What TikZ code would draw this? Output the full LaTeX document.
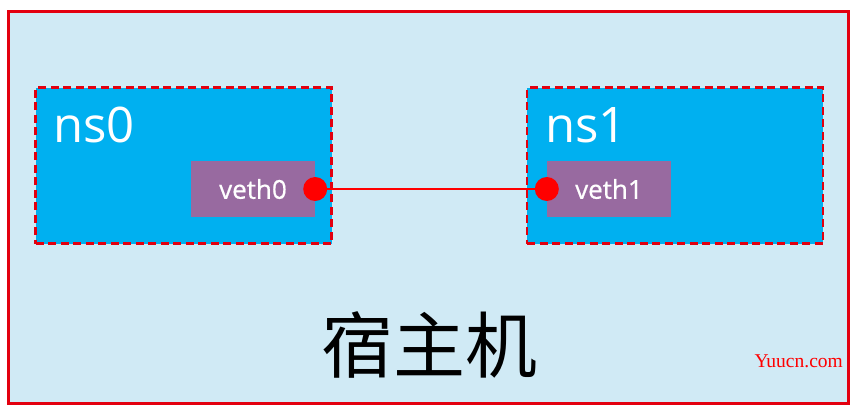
\documentclass[tikz,border=0pt]{standalone}
\usepackage{fontspec}
\setmainfont{Open Sans}
\newfontfamily\vethfont{Open Sans}[FakeBold=0.6]
\newfontfamily\cjk{Noto Sans CJK SC}
\newfontfamily\wmfont{Liberation Serif}
\usetikzlibrary{positioning}
\definecolor{hostbg}{HTML}{D0EAF5}
\definecolor{hostline}{HTML}{E3000F}
\definecolor{nsfill}{HTML}{00B0F0}
\definecolor{vethfill}{HTML}{986AA0}
\definecolor{linkred}{HTML}{FF0000}
\tikzset{
  host/.style={draw=hostline,fill=hostbg,line width=2.8pt,inner sep=0pt,
    minimum width=840pt,minimum height=392pt},
  nsbox/.style={draw=hostline,fill=nsfill,line width=2.8pt,
    dash pattern=on 8pt off 4.5pt,inner sep=0pt,
    minimum width=296pt,minimum height=156pt},
  nslabel/.style={anchor=base west,inner sep=0pt,text=white,
    font=\fontsize{49}{50}\selectfont},
  veth/.style={fill=vethfill,inner sep=0pt,text=white,
    minimum width=124pt,minimum height=56pt,
    font=\vethfont\fontsize{26}{28}\selectfont},
  port/.style={circle,fill=linkred,inner sep=0pt,minimum size=24pt},
  link/.style={draw=linkred,line width=2.8pt},
  hostlabel/.style={inner sep=0pt,font=\cjk\fontsize{72}{74}\selectfont},
  mark text/.style={anchor=base east,inner sep=0pt,text=linkred,
    font=\wmfont\fontsize{19.5}{20}\selectfont}
}
\begin{document}
\begin{tikzpicture}[x=1pt,y=-1pt]
  \useasboundingbox (0,0) rectangle (856,416);
  \node[host] (host) at (428.5,207.5) {};
  \node[nsbox] (ns0) at (183.5,165.5) {};
  \node[nsbox] (ns1) at (675,165.5) {};
  \node[nslabel] (ns0t) at (53,142) {ns0};
  \node[nslabel] (ns1t) at (545,142) {ns1};
  \node[veth] (veth0) at (253,189) {veth0};
  \node[veth] (veth1) at (609,189) {veth1};
  \node[port] (p0) at (veth0.east) {};
  \node[port] (p1) at (veth1.west) {};
  \draw[link] (p0) -- (p1);
  \node[hostlabel] (hostt) at (429,345) {宿主机};
  \node[mark text] (mark) at (843,367) {Yuucn.com};
\end{tikzpicture}
\end{document}
